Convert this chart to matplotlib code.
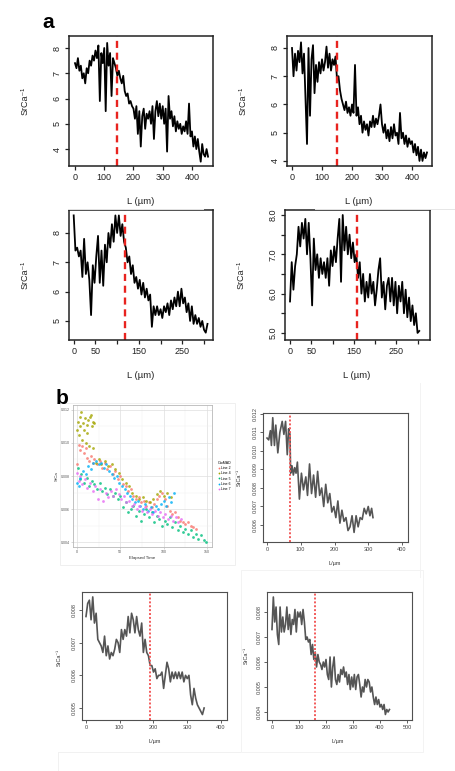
import numpy as np
import matplotlib
matplotlib.use('Agg')
import matplotlib.pyplot as plt
from matplotlib.lines import Line2D
from matplotlib.patches import Rectangle

W, H = 456, 771
plt.rcParams['font.family'] = ['Liberation Sans', 'DejaVu Sans']

# ---------------- DATA ----------------
# Panel a (SrCa^-1 profiles)
a1_x = np.arange(0, 460, 5)
a1_y = [7.4, 7.2, 7.6, 7.1, 7.3, 6.8, 7.0, 6.6, 7.2, 7.0,
        7.5, 7.3, 7.7, 7.5, 7.9, 7.6, 8.1, 5.9, 7.8, 7.4,
        8.0, 5.5, 8.2, 7.3, 7.8, 6.1, 7.6, 7.4, 7.2, 6.9,
        7.1, 6.8, 6.6, 6.9, 6.3, 6.1, 6.2, 5.8, 5.9, 5.7,
        5.6, 5.2, 5.7, 4.6, 5.5, 4.1, 5.3, 5.6, 4.8, 5.4,
        5.2, 5.5, 5.0, 5.7, 4.4, 5.5, 5.9, 5.3, 5.8, 5.2,
        5.7, 5.0, 5.6, 3.9, 6.1, 5.2, 5.5, 4.9, 5.3, 4.7,
        5.1, 4.8, 5.0, 4.6, 4.9, 4.7, 5.1, 4.6, 5.8, 4.5,
        4.7, 4.1, 4.5, 4.0, 4.4, 3.9, 3.5, 4.2, 3.8, 3.7,
        4.0, 3.7]
a1_cut = 143

a2_x = np.arange(0, 455, 5)
a2_y = [8.0, 7.0, 7.8, 7.2, 7.9, 7.5, 8.2, 7.1, 7.8, 6.2,
        4.6, 8.0, 5.6, 7.6, 8.1, 6.4, 7.4, 6.8, 7.5, 7.1,
        7.6, 7.2, 7.5, 8.05, 7.3, 7.8, 7.2, 7.6, 7.4, 7.7,
        6.9, 7.0, 6.5, 6.2, 6.0, 5.8, 6.1, 5.7, 5.9, 5.6,
        6.0, 5.7, 7.4, 5.6, 5.9, 5.3, 5.6, 5.0, 5.4, 5.1,
        5.3, 4.9, 5.4, 5.2, 5.6, 5.2, 5.5, 5.3, 5.6, 6.0,
        5.3, 5.0, 5.3, 4.8, 5.1, 4.7, 5.2, 4.8, 5.3, 4.9,
        5.0, 4.6, 5.7, 4.8, 5.0, 4.6, 4.9, 4.5, 4.8, 4.6,
        4.7, 4.3, 4.6, 4.2, 4.5, 4.0, 4.4, 4.0, 4.3, 4.1,
        4.3]
a2_cut = 150

a3_x = np.arange(0, 312, 4)
a3_y = [8.6, 7.4, 7.5, 7.2, 7.4, 6.5, 7.8, 6.6, 7.0, 6.4,
        5.2, 6.9, 6.3, 7.2, 7.9, 6.3, 7.4, 6.2, 7.6, 7.0,
        8.0, 7.5, 8.3, 7.7, 8.6, 8.0, 8.6, 7.9, 8.3, 7.7,
        7.5, 7.0, 7.2, 6.6, 6.9, 6.3, 6.5, 6.1, 6.4, 5.9,
        6.3, 5.8, 6.1, 5.7, 5.9, 4.8, 5.5, 5.2, 5.5, 5.2,
        5.4, 5.1, 5.5, 5.3, 5.6, 5.2, 5.7, 5.4, 5.8, 5.5,
        6.0, 5.5, 6.1, 5.6, 5.8, 5.3, 5.6, 5.0, 5.5, 4.9,
        5.2, 4.9, 5.1, 4.8, 5.0, 4.7, 4.6, 4.9]
a3_cut = 118

a4_x = np.arange(0, 308, 4)
a4_y = [5.8, 6.8, 6.1, 6.7, 7.0, 7.7, 7.2, 7.8, 7.4, 7.9,
        7.0, 7.8, 6.9, 5.7, 7.4, 6.6, 7.0, 6.4, 6.9, 6.5,
        6.8, 6.4, 6.9, 6.2, 7.1, 6.7, 7.2, 6.8, 7.4, 7.9,
        6.3, 8.0, 7.1, 7.7, 7.0, 7.5, 6.9, 7.3, 6.8, 7.0,
        6.4, 6.8, 6.0, 6.5, 5.8, 6.3, 5.9, 6.5, 6.0, 6.3,
        5.7, 6.1, 6.6, 6.9, 5.9, 6.3, 5.6, 6.2, 6.4, 5.8,
        6.4, 5.7, 6.3, 5.5, 6.2, 5.8, 6.3, 5.5, 6.1, 5.4,
        5.9, 5.3, 5.7, 5.2, 5.5, 5.0, 5.05]
a4_cut = 158

# Panel b scatter (SrCa vs elapsed time)
line_names = ['Line 2', 'Line 4', 'Line 5', 'Line 6', 'Line 7']
line_colors = ['#F8766D', '#A3A500', '#00BF7D', '#00B0F6', '#E76BF3']

l2_t = [0, 2, 4, 6, 8, 10, 12, 14, 16, 18, 20, 23, 26, 29, 32, 35, 38, 41, 44, 47,
        50, 53, 56, 59, 62, 65, 68, 71, 74, 77, 80, 83, 86, 89, 92, 95, 98, 101, 104, 107,
        110, 113, 116, 119, 122, 125, 128, 131, 134, 137]
l2_y = [0.0087, 0.0099, 0.0096, 0.0098, 0.0094, 0.0097, 0.0091, 0.0089, 0.0092, 0.0088,
        0.0090, 0.0087, 0.0089, 0.0085, 0.0088, 0.0084, 0.0086, 0.0081, 0.0083, 0.0078,
        0.0080, 0.0075, 0.0074, 0.0071, 0.0072, 0.0068, 0.0066, 0.0067, 0.0064, 0.0065,
        0.0062, 0.0064, 0.0061, 0.0063, 0.0066, 0.0068, 0.0070, 0.0066, 0.0062, 0.0059,
        0.0057, 0.0058, 0.0055, 0.0053, 0.0052, 0.0051, 0.0052, 0.0050, 0.0049, 0.0048]

l4_t = [0, 1, 2, 3, 4, 5, 6, 7, 8, 9, 10, 11, 12, 13, 14, 15, 16, 17, 18, 19, 20,
        22, 25, 28, 32, 36, 40, 44, 48, 52, 56, 60, 64, 68, 72, 76, 80, 84, 88, 92,
        96, 100, 104, 108]
l4_y = [0.0108, 0.0113, 0.0105, 0.0116, 0.0110, 0.0119, 0.0102, 0.0112, 0.0108, 0.0115,
        0.0100, 0.0111, 0.0106, 0.0114, 0.0098, 0.0116, 0.0117, 0.0110, 0.0097, 0.0113,
        0.0112,
        0.0088, 0.0090, 0.0087, 0.0089, 0.0086, 0.0087, 0.0084, 0.0082, 0.0078, 0.0076,
        0.0074, 0.0070, 0.0068, 0.0066, 0.0067, 0.0065, 0.0064, 0.0066, 0.0069, 0.0071,
        0.0068, 0.0070, 0.0067]

l5_t = [1, 3, 5, 8, 11, 14, 17, 20, 23, 26, 29, 32, 35, 38, 41, 44, 47, 50, 53, 56,
        59, 62, 65, 68, 71, 74, 77, 80, 83, 86, 89, 92, 95, 98, 101, 104, 107, 110, 113, 116,
        119, 122, 125, 128, 131, 134, 137, 140, 143, 146, 149]
l5_y = [0.0085, 0.0078, 0.0081, 0.0076, 0.0079, 0.0074, 0.0077, 0.0075, 0.0072, 0.0076,
        0.0071, 0.0073, 0.0069, 0.0072, 0.0068, 0.0070, 0.0066, 0.0068, 0.0061, 0.0064,
        0.0058, 0.0060, 0.0062, 0.0056, 0.0059, 0.0053, 0.0057, 0.0060, 0.0055, 0.0058,
        0.0052, 0.0056, 0.0054, 0.0050, 0.0053, 0.0051, 0.0055, 0.0049, 0.0052, 0.0047,
        0.0050, 0.0046, 0.0048, 0.0045, 0.0047, 0.0043, 0.0045, 0.0042, 0.0044, 0.0041,
        0.0040]

l6_t = [0, 2, 4, 7, 10, 13, 16, 19, 22, 25, 28, 31, 34, 37, 40, 43, 46, 49, 52, 55,
        58, 61, 64, 67, 70, 73, 76, 79, 82, 85, 88, 91, 94, 97, 100, 103, 106, 109, 112]
l6_y = [0.0076, 0.0074, 0.0079, 0.0083, 0.0081, 0.0086, 0.0084, 0.0088, 0.0089, 0.0087,
        0.0088, 0.0085, 0.0087, 0.0083, 0.0081, 0.0079, 0.0080, 0.0076, 0.0074, 0.0072,
        0.0070, 0.0068, 0.0066, 0.0064, 0.0065, 0.0062, 0.0060, 0.0063, 0.0059, 0.0061,
        0.0058, 0.0062, 0.0060, 0.0063, 0.0065, 0.0062, 0.0067, 0.0064, 0.0070]

l7_t = [0, 2, 4, 6, 9, 12, 15, 18, 21, 24, 27, 30, 33, 36, 39, 42, 45, 48, 51, 54,
        57, 60, 63, 66, 69, 72, 75, 78, 81, 84, 87, 90, 93, 96, 99, 102, 105, 108, 111, 114,
        117, 120]
l7_y = [0.0082, 0.0077, 0.0080, 0.0075, 0.0078, 0.0073, 0.0076, 0.0071, 0.0074, 0.0066,
        0.0072, 0.0065, 0.0070, 0.0067, 0.0071, 0.0068, 0.0072, 0.0069, 0.0066, 0.0068,
        0.0064, 0.0065, 0.0062, 0.0063, 0.0060, 0.0062, 0.0059, 0.0061, 0.0058, 0.0060,
        0.0057, 0.0059, 0.0056, 0.0058, 0.0055, 0.0057, 0.0054, 0.0056, 0.0053, 0.0055,
        0.0052, 0.0054]

scatter_t = [l2_t, l4_t, l5_t, l6_t, l7_t]
scatter_y = [l2_y, l4_y, l5_y, l6_y, l7_y]

# Panel b smoothed profiles
b1_x = [0, 5, 10, 13, 17, 22, 26, 32, 38, 45, 50, 55, 60, 64, 68, 70, 74, 78, 82, 86,
        90, 96, 102, 108, 115, 120, 126, 132, 138, 144, 150, 156, 162, 168, 174, 180, 186, 192, 198, 204,
        210, 216, 222, 228, 234, 240, 246, 252, 258, 264, 270, 276, 282, 288, 294, 300, 305, 310, 314]
b1_y = [0.0107, 0.0106, 0.0111, 0.0103, 0.0118, 0.0103, 0.0114, 0.0099, 0.0110, 0.0116,
        0.0109, 0.0116, 0.0098, 0.0112, 0.0109, 0.0088, 0.0092, 0.0087, 0.0091, 0.0088,
        0.0094, 0.0074, 0.0088, 0.0079, 0.0086, 0.0076, 0.0093, 0.0077, 0.0087, 0.0075,
        0.0089, 0.0076, 0.0080, 0.0070, 0.0082, 0.0072, 0.0077, 0.0067, 0.0070, 0.0064,
        0.0073, 0.0061, 0.0068, 0.0062, 0.0064, 0.0057, 0.0059, 0.0065, 0.0056, 0.0065,
        0.0059, 0.0064, 0.0063, 0.0069, 0.0066, 0.0070, 0.0065, 0.0069, 0.0064]
b1_cut = 68

b2_x = np.arange(0, 355, 5)
b2_y = [0.0078, 0.0082, 0.0083, 0.0077, 0.0084, 0.0076, 0.0079, 0.0071, 0.0070, 0.0069,
        0.0067, 0.0072, 0.0066, 0.0069, 0.0065, 0.0067, 0.0066, 0.0068, 0.0071, 0.0070,
        0.0067, 0.0074, 0.0071, 0.0074, 0.0072, 0.0078, 0.0073, 0.0079, 0.0077, 0.0073,
        0.0078, 0.0074, 0.0072, 0.0076, 0.0067, 0.0071, 0.0067, 0.0066, 0.0063, 0.0063,
        0.0061, 0.0062, 0.0059, 0.0060, 0.0060, 0.0061, 0.0056, 0.0060, 0.0064, 0.0062,
        0.0058, 0.0061, 0.0059, 0.0061, 0.0059, 0.0061, 0.0059, 0.0061, 0.0058, 0.0060,
        0.0059, 0.0060, 0.0054, 0.0051, 0.0056, 0.0053, 0.0051, 0.0050, 0.0049, 0.0048,
        0.0050]
b2_cut = 190

b3_x = np.arange(0, 440, 5)
b3_y = [0.0073, 0.0086, 0.0076, 0.0082, 0.0071, 0.0067, 0.0082, 0.0072, 0.0078, 0.0072,
        0.0075, 0.0082, 0.0073, 0.0079, 0.0071, 0.0077, 0.0075, 0.0081, 0.0072, 0.0080,
        0.0078, 0.0080, 0.0075, 0.0081, 0.0076, 0.0069, 0.0070, 0.0068, 0.0069, 0.0063,
        0.0067, 0.0061, 0.0064, 0.0058, 0.0063, 0.0060, 0.0059, 0.0057, 0.0060, 0.0058,
        0.0061, 0.0055, 0.0053, 0.0062, 0.0050, 0.0058, 0.0062, 0.0053, 0.0051, 0.0055,
        0.0052, 0.0057, 0.0055, 0.0058, 0.0054, 0.0056, 0.0051, 0.0055, 0.0049, 0.0054,
        0.0050, 0.0055, 0.0049, 0.0054, 0.0055, 0.0051, 0.0046, 0.0050, 0.0048, 0.0053,
        0.0050, 0.0053, 0.0052, 0.0048, 0.0050, 0.0046, 0.0043, 0.0046, 0.0043, 0.0045,
        0.0042, 0.0043, 0.0041, 0.0043, 0.0039, 0.0041, 0.0040, 0.0041]
b3_cut = 159

# ---------------- FIGURE ----------------
fig = plt.figure(figsize=(W / 100, H / 100), dpi=100)


def add_ax(x0, y0, x1, y1):
    return fig.add_axes([x0 / W, 1 - y1 / H, (x1 - x0) / W, (y1 - y0) / H])


def ftext(x, y, s, **kw):
    fig.text(x / W, 1 - y / H, s, **kw)


def fline(xs, ys, **kw):
    fig.add_artist(Line2D([x / W for x in xs], [1 - y / H for y in ys], **kw))


def frect(x0, y0, x1, y1, **kw):
    fig.add_artist(Rectangle((x0 / W, 1 - y1 / H), (x1 - x0) / W, (y1 - y0) / H,
                             fill=False, transform=fig.transFigure, **kw))


# faint screenshot frames
fline([68, 203], [209, 209], color='#e6e6e6', lw=0.7)
fline([315, 455], [209, 209], color='#e6e6e6', lw=0.7)
frect(60, 403, 235, 565, color='#efefef', lw=0.7)
fline([420, 420], [383, 577], color='#f3f3f3', lw=0.7)
fline([58, 240], [752, 752], color='#f1f1f1', lw=0.7)
fline([58, 58], [752, 771], color='#f1f1f1', lw=0.7)
frect(241, 570, 423, 752, color='#f3f3f3', lw=0.7)


def style_a(ax, xlim, ylim, xt, xl, yt, yl):
    ax.set_xlim(*xlim)
    ax.set_ylim(*ylim)
    ax.set_xticks(xt)
    ax.set_xticklabels(xl)
    ax.set_yticks(yt)
    ax.set_yticklabels(yl, rotation=90, va='center')
    for s in ax.spines.values():
        s.set_linewidth(1.1)
        s.set_color('#222222')
    ax.tick_params(length=3.2, width=0.9, labelsize=6.5, pad=2, colors='#222222')


RED = '#E8231F'
panels_a = [
    (add_ax(69, 36, 213, 166), a1_x, a1_y, a1_cut, (-20.5, 472), (3.33, 8.475),
     [0, 100, 200, 300, 400], ['0', '100', '200', '300', '400'],
     [4, 5, 6, 7, 8], ['4', '5', '6', '7', '8']),
    (add_ax(287, 36, 432, 166), a2_x, a2_y, a2_cut, (-16.7, 466.7), (3.82, 8.425),
     [0, 100, 200, 300, 400], ['0', '100', '200', '300', '400'],
     [4, 5, 6, 7, 8], ['4', '5', '6', '7', '8']),
    (add_ax(69, 210, 213, 340), a3_x, a3_y, a3_cut, (-10.8, 320.7), (4.35, 8.784),
     [0, 50, 100, 150, 200, 250, 300], ['0', '50', '', '150', '', '250', ''],
     [5, 6, 7, 8], ['5', '6', '7', '8']),
    (add_ax(285, 210, 430, 340), a4_x, a4_y, a4_cut, (-11.8, 329.3), (4.82, 8.127),
     [0, 50, 100, 150, 200, 250, 300], ['0', '50', '', '150', '', '250', ''],
     [5.0, 5.5, 6.0, 6.5, 7.0, 7.5, 8.0], ['5.0', '', '6.0', '', '7.0', '', '8.0']),
]
for ax, x, y, cut, xlim, ylim, xt, xl, yt, yl in panels_a:
    ax.plot(x, y, color='black', lw=1.3)
    ax.axvline(cut, color=RED, lw=1.7, ls=(0, (3, 2)))
    style_a(ax, xlim, ylim, xt, xl, yt, yl)

for xc, yc in [(141, 202), (359, 202), (141, 375), (357, 375)]:
    ftext(xc, yc, 'L (µm)', fontsize=6.8, ha='center', va='center', color='#222222')
for xc, yc in [(25, 101), (243, 101), (25, 275), (241, 275)]:
    ftext(xc, yc, 'SrCa⁻¹', fontsize=6.5, ha='center', va='center', rotation=90,
          color='#222222')

ftext(48, 22, 'a', fontsize=15, fontweight='bold', ha='center', va='center')
ftext(62, 398, 'b', fontsize=15, fontweight='bold', ha='center', va='center')

# ---- scatter panel (ggplot-like) ----
axs = add_ax(73, 405, 212, 547)
axs.set_xlim(-4.6, 155.8)
axs.set_ylim(0.0037, 0.0123)
axs.set_xticks([0, 50, 100, 150])
axs.set_xticks([25, 75, 125], minor=True)
axs.set_yticks([0.004, 0.006, 0.008, 0.010, 0.012])
axs.set_yticklabels(['0.004', '0.006', '0.008', '0.010', '0.012'])
axs.set_yticks([0.005, 0.007, 0.009, 0.011], minor=True)
axs.grid(which='major', color='#DEDEDE', lw=0.5)
axs.grid(which='minor', color='#F0F0F0', lw=0.3)
axs.set_axisbelow(True)
for s in axs.spines.values():
    s.set_color('#B8B8B8')
    s.set_linewidth(0.6)
axs.tick_params(which='major', labelsize=2.6, length=1.2, width=0.4, color='#B8B8B8',
                labelcolor='#555555', pad=1)
axs.tick_params(which='minor', length=0)
for t, yv, c in zip(scatter_t, scatter_y, line_colors):
    axs.scatter(t, yv, s=4, color=c, alpha=0.8, linewidths=0)
axs.set_xlabel('Elapsed Time', fontsize=3.2, labelpad=1.5, color='#333333')
axs.set_ylabel('SrCa', fontsize=3.2, labelpad=1.5, color='#333333')
handles = [Line2D([], [], marker='o', ls='none', ms=1.3, color=c, markeredgewidth=0)
           for c in line_colors]
axs.legend(handles, line_names, title='OtoMAD', loc='center left',
           bbox_to_anchor=(216 / W, 1 - 476 / H), bbox_transform=fig.transFigure,
           fontsize=2.5, title_fontsize=2.6, frameon=False, handletextpad=0.2,
           labelspacing=0.35, handlelength=0.8, borderpad=0)


# ---- b line panels ----
def style_b(ax, xlim, ylim, xt, yt, ylabs):
    ax.set_xlim(*xlim)
    ax.set_ylim(*ylim)
    ax.set_xticks(xt)
    ax.set_xticklabels([str(v) for v in xt])
    ax.set_yticks(yt)
    ax.set_yticklabels(ylabs, rotation=90, va='center')
    for s in ax.spines.values():
        s.set_linewidth(0.8)
        s.set_color('#505050')
    ax.tick_params(length=2, width=0.6, labelsize=4, pad=1.5, colors='#444444')


PINK = '#F25A5A'
ax_b1 = add_ax(263, 413, 408, 542)
ax_b1.plot(b1_x, b1_y, color='#555555', lw=1.2)
ax_b1.axvline(b1_cut, color=PINK, lw=1.4, ls=(0, (1, 1)))
style_b(ax_b1, (-11.9, 417.8), (0.005081, 0.012054), [0, 100, 200, 300, 400],
        [0.006, 0.007, 0.008, 0.009, 0.010, 0.011, 0.012],
        ['0.006', '0.007', '0.008', '0.009', '0.010', '0.011', '0.012'])

ax_b2 = add_ax(82, 592, 227, 720)
ax_b2.plot(b2_x, b2_y, color='#555555', lw=1.2)
ax_b2.axvline(b2_cut, color=PINK, lw=1.4, ls=(0, (1, 1)))
style_b(ax_b2, (-11.85, 417.8), (0.004633, 0.00855), [0, 100, 200, 300, 400],
        [0.005, 0.006, 0.007, 0.008], ['0.005', '0.006', '0.007', '0.008'])

ax_b3 = add_ax(267, 592, 412, 720)
ax_b3.plot(b3_x, b3_y, color='#555555', lw=1.2)
ax_b3.axvline(b3_cut, color=PINK, lw=1.4, ls=(0, (1, 1)))
style_b(ax_b3, (-18.5, 518.5), (0.00368, 0.0088), [0, 100, 200, 300, 400, 500],
        [0.004, 0.005, 0.006, 0.007, 0.008], ['0.004', '0.005', '0.006', '0.007', '0.008'])

for xc, yc in [(335, 563), (155, 742), (338, 742)]:
    ftext(xc, yc, 'L/µm', fontsize=4, ha='center', va='center', color='#333333')
for xc, yc in [(239, 478), (59, 658), (246, 655)]:
    ftext(xc, yc, 'SrCa⁻¹', fontsize=4, ha='center', va='center', rotation=90,
          color='#333333')

fig.savefig('out.png', dpi=100, facecolor='white')
